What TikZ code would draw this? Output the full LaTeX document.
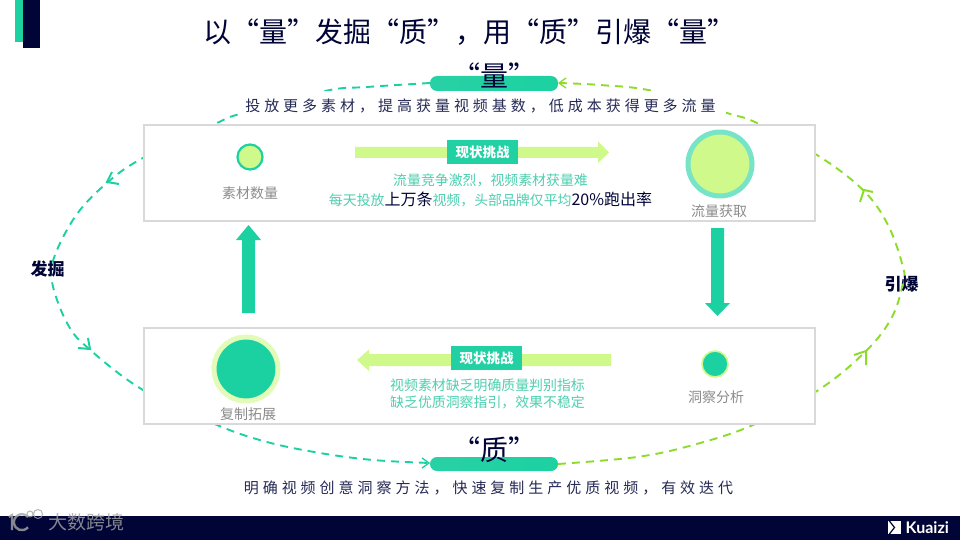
\documentclass[tikz,border=0pt]{standalone}
\usepackage{fontspec}
\setmainfont{Noto Sans CJK SC}
\newfontfamily\spaced[LetterSpace=26.5]{Noto Sans CJK SC}
\newfontfamily\logofont{Lato}
\usetikzlibrary{arrows.meta,shadings}
\definecolor{navy}{HTML}{000437}
\definecolor{teal}{HTML}{1CD1A1}
\definecolor{softteal}{HTML}{4ECFB0}
\definecolor{lime}{HTML}{CFF98A}
\definecolor{leaf}{HTML}{8CDC2A}
\definecolor{boxgray}{HTML}{D9D9D9}
\definecolor{labelgray}{HTML}{8C8C8C}
\tikzset{
  x=1pt,y=-1pt,
  panel/.style={draw=boxgray,line width=1.6pt,fill=white},
  pillbar/.style={rounded corners=7pt,left color=#1,right color=teal,draw=none},
  tealarc/.style={draw=teal,line width=1.9pt,dash pattern=on 8pt off 6pt},
  leafarc/.style={draw=leaf,line width=1.9pt,dash pattern=on 8pt off 6pt},
  openhead/.style={line width=2pt,line cap=butt},
  captext/.style={text=labelgray,font=\fontsize{14}{16}\selectfont,inner sep=0pt},
  notetext/.style={text=softteal,font=\fontsize{13.9}{17}\selectfont,inner sep=0pt},
  badge/.style={fill=#1,text=white,font=\fontsize{13.5}{16}\selectfont\bfseries,inner sep=0pt,minimum height=24pt,minimum width=71pt},
  sidetext/.style={text=navy,font=\fontsize{17}{19}\selectfont\bfseries,inner sep=0pt},
  widetext/.style={text=navy!85!white,font=\spaced\fontsize{15}{18}\selectfont,inner sep=0pt},
  bigtext/.style={text=navy,font=\fontsize{28}{30}\selectfont,inner sep=0pt},
  markgray/.style={gray!70!white,opacity=.8},
}
\begin{document}
\begin{tikzpicture}
\useasboundingbox (0,0) rectangle (960,540);
\fill[white] (0,0) rectangle (960,540);
% corner accents
\fill[teal] (15,0) rectangle (23,42);
\fill[navy] (23,0) rectangle (40,48);
% loop arcs
\draw[tealarc] plot[smooth,tension=.6] coordinates {(430,83) (367,87) (325,91) (238,114.5) (217,123) (143,158) (108,182) (77,214) (55,255) (52,282) (67,323) (88,348) (143,390) (217,425) (267,442) (320,453) (373,460) (430,463)};
\draw[leafarc] plot[smooth,tension=.6] coordinates {(558,464) (637,457) (693,445) (753,425) (820,389) (867,350) (892,317) (903,283) (903,267) (888,225) (863,190) (817,155) (757,123) (727,113) (653,91) (600,85) (558,83)};
% white mask under subtitle
\fill[white] (240,91) rectangle (726,114);
% panels
\node[panel,minimum width=671pt,minimum height=96pt,inner sep=0pt,anchor=north west] (top) at (143.2,124.2) {};
\node[panel,minimum width=671pt,minimum height=96pt,inner sep=0pt,anchor=north west] (bottom) at (143.2,327.2) {};
% loop arrowheads
\draw[openhead,teal] (112,172) -- (107,182) -- (119,184);
\draw[openhead,teal] (78,348) -- (90,349) -- (88,338);
\draw[openhead,teal,line width=1.3pt] (422,458) -- (429,463) -- (422,468);
\draw[openhead,leaf,line width=1.3pt] (566,78) -- (559,83) -- (566,88);
\draw[openhead,leaf] (860,202) -- (864,190) -- (873,192);
\draw[openhead,leaf] (854,355) -- (866,351) -- (866,365);
% pills
\path[pillbar=teal!75!softteal] (430,76) rectangle (558,91);
\path[pillbar=teal!75!softteal] (430,457) rectangle (558,471);
\node[bigtext] (q1) at (494,75) {“量”};
\node[bigtext] (q2) at (494,450) {“质”};
% title
\node[bigtext] (title) at (469,32) {以“量”发掘“质”，用“质”引爆“量”};
% subtitles
\node[widetext] (s1) at (480.5,106) {投放更多素材，提高获量视频基数，低成本获得更多流量};
\node[widetext] (s2) at (488.5,488) {明确视频创意洞察方法，快速复制生产优质视频，有效迭代};
% block arrows
\fill[teal] (242,313) -- (255,313) -- (255,240) -- (261,240) -- (248.5,225) -- (236,240) -- (242,240) -- cycle;
\fill[teal] (711,228) -- (724,228) -- (724,303) -- (730,303) -- (717.5,316) -- (705,303) -- (711,303) -- cycle;
\fill[lime] (355,147) -- (598,147) -- (598,141.5) -- (609,152.5) -- (598,163) -- (598,158) -- (355,158) -- cycle;
\fill[lime] (611,354) -- (369,354) -- (369,349.5) -- (357,360) -- (369,371) -- (369,366) -- (611,366) -- cycle;
\node[badge=teal!88!softteal] (b1) at (482.5,152.5) {现状挑战};
\node[badge=teal!88!softteal] (b2) at (486.5,358) {现状挑战};
% circles
\node[circle,draw=teal,line width=2.2pt,fill=lime,minimum size=25pt,inner sep=0pt] (c1) at (250,157) {};
\node[circle,draw=teal!60!white,line width=5pt,fill=lime,minimum size=64pt,inner sep=0pt] (c2) at (720,164) {};
\node[circle,draw=lime!60!white,line width=5pt,fill=teal,minimum size=64pt,inner sep=0pt] (c3) at (246,369) {};
\node[circle,draw=lime,line width=1.6pt,fill=teal,minimum size=26pt,inner sep=0pt] (c4) at (715,364) {};
% captions
\node[captext] (l1) at (250,193) {素材数量};
\node[captext] (l2) at (719,211) {流量获取};
\node[captext] (l3) at (248,414) {复制拓展};
\node[captext] (l4) at (716,397) {洞察分析};
% notes
\node[notetext] (n1) at (490.5,180) {流量竞争激烈，视频素材获量难};
\node[notetext] (n2) at (490.5,199) {每天投放{\color{navy}\fontsize{16}{17}\selectfont 上万条}视频，头部品牌仅平均{\color{navy}\fontsize{16}{17}\selectfont 20\%跑出率}};
\node[notetext] (n3) at (487.5,385) {视频素材缺乏明确质量判别指标};
\node[notetext] (n4) at (487.5,402) {缺乏优质洞察指引，效果不稳定};
% side labels
\node[sidetext] (sl) at (47.5,269) {发掘};
\node[sidetext] (sr) at (901.5,284) {引爆};
% footer
\fill[navy] (0,516) rectangle (960,540);
\node[inner sep=0pt,text=gray!70!white,font=\fontsize{19}{20}\selectfont,opacity=.8] (wm) at (86,522.5) {大数跨境};
\draw[markgray,line width=2.2pt] (9,517) -- (12,515) -- (12,530);
\draw[markgray,line width=2.4pt] (28,517) arc[start angle=40,end angle=320,radius=8pt];
\draw[markgray,line width=1pt] (30,514) circle[radius=3pt] (38,514) circle[radius=4.5pt];
\fill[white] (888,521) rectangle (901,534);
\draw[navy,line width=1.2pt] (889,520.5) -- (894.5,527.5) -- (889,534.5);
\node[inner sep=0pt,text=white,font=\logofont\fontsize{16}{18}\selectfont\bfseries,anchor=west] (kz) at (905.5,528) {Kuaizi};
\end{tikzpicture}
\end{document}
